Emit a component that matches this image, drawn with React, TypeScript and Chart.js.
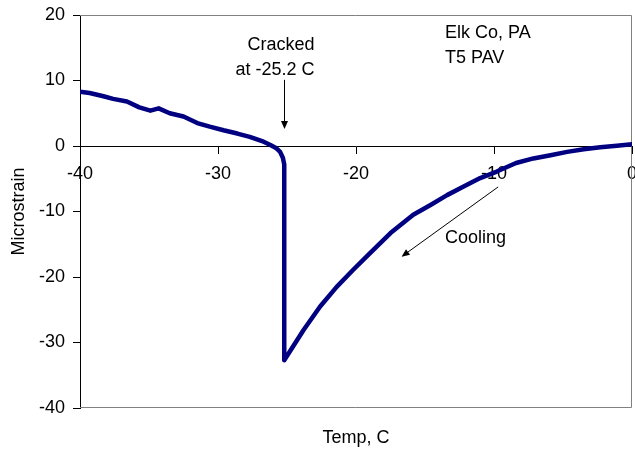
import React, { useEffect, useRef } from "react";
import { Chart, registerables } from "chart.js";

Chart.register(...registerables);

const temps: number[] = [
  -40, -39.3, -38.3, -37.6, -36.6, -35.7, -34.9, -34.3, -33.5, -32.5, -31.5, -30.6, -29.6, -28.6, -27.7, -26.7,
  -26.2, -25.8, -25.5, -25.3, -25.2, -25.2,
  -23.8, -22.6, -21.4, -20.2, -19.0, -17.5, -15.85, -14.6, -13.4, -12.2, -11.0, -9.8, -8.4, -7.15, -5.9, -4.7,
  -3.5, -2.3, -1.1, 0,
];
const strains: number[] = [
  8.3, 8.1, 7.6, 7.2, 6.8, 5.9, 5.4, 5.75, 5.0, 4.5, 3.5, 2.95, 2.4, 1.9, 1.4, 0.65,
  0.15, -0.3, -0.9, -1.8, -2.8, -32.7,
  -28.1, -24.5, -21.5, -18.9, -16.4, -13.3, -10.5, -9.0, -7.5, -6.2, -4.9, -3.9, -2.6, -1.9, -1.4, -0.9,
  -0.5, -0.2, 0.05, 0.25,
];
const xTicks: number[] = [-40, -30, -20, -10, 0];
const yTicks: number[] = [-40, -30, -20, -10, 0, 10, 20];

const FONT = "'Liberation Sans', Arial, sans-serif";

function arrow(ctx: CanvasRenderingContext2D, x1: number, y1: number, x2: number, y2: number) {
  const ang = Math.atan2(y2 - y1, x2 - x1);
  const len = 8;
  const w = 3.5;
  ctx.beginPath();
  ctx.moveTo(x1, y1);
  ctx.lineTo(x2 - Math.cos(ang) * len * 0.8, y2 - Math.sin(ang) * len * 0.8);
  ctx.stroke();
  ctx.beginPath();
  ctx.moveTo(x2, y2);
  ctx.lineTo(x2 - Math.cos(ang) * len - Math.sin(ang) * w, y2 - Math.sin(ang) * len + Math.cos(ang) * w);
  ctx.lineTo(x2 - Math.cos(ang) * len + Math.sin(ang) * w, y2 - Math.sin(ang) * len - Math.cos(ang) * w);
  ctx.closePath();
  ctx.fill();
}

const decor = {
  id: "decor",
  beforeDatasetsDraw(chart: any) {
    const { ctx, chartArea: a } = chart;
    ctx.save();
    ctx.strokeStyle = "#808080";
    ctx.lineWidth = 1;
    const t = Math.round(a.top) + 0.5;
    const r = Math.round(a.right) - 0.5;
    const b = Math.round(a.bottom) - 0.5;
    ctx.beginPath();
    ctx.moveTo(a.left, t);
    ctx.lineTo(r, t);
    ctx.lineTo(r, b);
    ctx.lineTo(a.left, b);
    ctx.stroke();
    ctx.restore();
  },
  afterDraw(chart: any) {
    const { ctx, chartArea: a } = chart;
    const xs = chart.scales.x;
    const ys = chart.scales.y;
    const px = (v: number) => xs.getPixelForValue(v);
    const py = (v: number) => ys.getPixelForValue(v);
    ctx.save();
    ctx.fillStyle = "#000";
    ctx.strokeStyle = "#000";
    ctx.lineWidth = 1;
    ctx.font = `18px ${FONT}`;
    ctx.textBaseline = "middle";
    ctx.textAlign = "right";
    ctx.fillText("Cracked", px(-23.0), py(15.4));
    ctx.fillText("at -25.2 C", px(-23.0), py(11.6));
    ctx.textAlign = "left";
    ctx.fillText("Elk Co, PA", px(-13.55), py(17.25));
    ctx.fillText("T5 PAV", px(-13.55), py(13.4));
    ctx.fillText("Cooling", px(-13.55), py(-14.0));
    arrow(ctx, Math.round(px(-25.2)) + 0.5, py(10.1), Math.round(px(-25.2)) + 0.5, py(2.6));
    arrow(ctx, px(-9.7), py(-6.25), px(-16.7), py(-16.9));
    ctx.textAlign = "center";
    ctx.fillText("Temp, C", (a.left + a.right) / 2, 438);
    ctx.restore();
  },
};

export default function App() {
  const ref = useRef<HTMLCanvasElement | null>(null);
  useEffect(() => {
    if (!ref.current) return;
    const points = temps.map((t, i) => ({ x: t, y: strains[i] }));
    const chart = new Chart(ref.current, {
      type: "line",
      data: {
        datasets: [
          {
            data: points,
            borderColor: "#000080",
            backgroundColor: "#000080",
            borderWidth: 4.5,
            pointRadius: 0,
            tension: 0,
            borderJoinStyle: "round",
            borderCapStyle: "round",
          },
        ],
      },
      options: {
        animation: false,
        responsive: true,
        maintainAspectRatio: false,
        layout: { padding: { left: 0, top: 15, right: 3, bottom: 45 } },
        plugins: { legend: { display: false }, tooltip: { enabled: false }, title: { display: false } },
        scales: {
          x: {
            type: "linear",
            position: { y: 0 } as any,
            min: -40,
            max: 0,
            afterBuildTicks: (s: any) => {
              s.ticks = xTicks.map((v) => ({ value: v }));
            },
            afterFit: (s: any) => {
              s.paddingLeft = 0;
              s.paddingRight = 0;
              s.paddingTop = 0;
              s.paddingBottom = 0;
            },
            ticks: { color: "#000", font: { size: 18, family: FONT }, padding: 10, autoSkip: false, maxRotation: 0 },
            grid: { drawOnChartArea: false, tickLength: 7, color: "#000" },
            border: { color: "#000", width: 1 },
          },
          y: {
            type: "linear",
            min: -40,
            max: 20,
            afterBuildTicks: (s: any) => {
              s.ticks = yTicks.map((v) => ({ value: v }));
            },
            afterFit: (s: any) => {
              s.width = 80;
              s.paddingTop = 0;
              s.paddingBottom = 0;
            },
            ticks: { color: "#000", font: { size: 18, family: FONT }, padding: 8 },
            grid: { drawOnChartArea: false, tickLength: 7, color: "#000" },
            border: { color: "#000", width: 1 },
            title: {
              display: true,
              text: "Microstrain",
              color: "#000",
              font: { size: 18, family: FONT },
              padding: { top: 8, bottom: 0 },
            },
          },
        },
      },
      plugins: [decor],
    });
    return () => chart.destroy();
  }, []);
  return (
    <div style={{ position: "fixed", left: 0, top: 0, width: 635, height: 453, background: "#fff" }}>
      <canvas ref={ref} />
    </div>
  );
}
